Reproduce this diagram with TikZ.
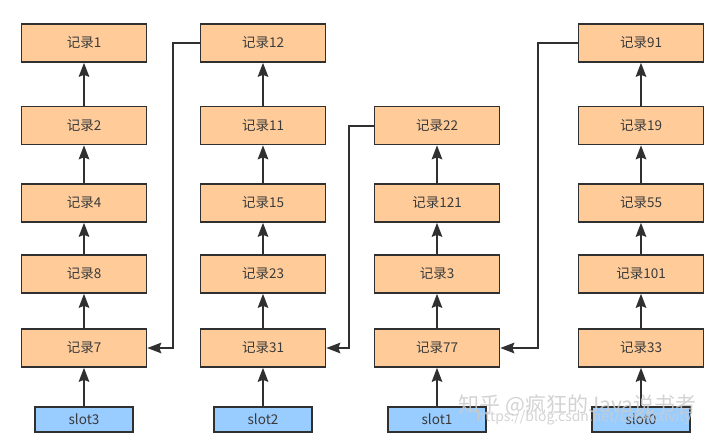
\documentclass[tikz,border=0pt]{standalone}
\usepackage{fontspec}
\setmainfont{Noto Sans CJK SC}
\usetikzlibrary{arrows.meta}
\definecolor{recfill}{HTML}{FFCC99}
\definecolor{slotfill}{HTML}{99CCFF}
\definecolor{edgec}{HTML}{303030}
\definecolor{txtc}{HTML}{3A3A3A}
\begin{document}
\begin{tikzpicture}[x=1pt,y=-1pt,
  rec/.style={draw=edgec, line width=1.6pt, fill=recfill, minimum width=125pt, minimum height=38pt, inner sep=0pt, text=txtc, font=\fontsize{13.5}{13.5}\selectfont},
  slotbox/.style={draw=edgec, line width=1.6pt, fill=slotfill, minimum width=98pt, minimum height=25pt, inner sep=0pt, text=txtc, font=\fontsize{13.5}{13.5}\selectfont},
  arr/.style={draw=edgec, line width=2pt, -{Stealth[length=14pt,width=10.5pt,inset=2pt]}},
  wm/.style={text=gray!40, opacity=0.85}]
\useasboundingbox (0,0) rectangle (720,437);
\fill[white] (0,0) rectangle (720,437);
% column 1
\node[rec] (r1) at (84,43) {记录1};
\node[rec] (r2) at (84,125.5) {记录2};
\node[rec] (r4) at (84,203) {记录4};
\node[rec] (r8) at (84,274) {记录8};
\node[rec] (r7) at (84,348) {记录7};
\node[slotbox] (s3) at (84,419.5) {slot3};
% column 2
\node[rec] (r12) at (263,43) {记录12};
\node[rec] (r11) at (263,125.5) {记录11};
\node[rec] (r15) at (263,203) {记录15};
\node[rec] (r23) at (263,274) {记录23};
\node[rec] (r31) at (263,348) {记录31};
\node[slotbox] (s2) at (263,419.5) {slot2};
% column 3
\node[rec] (r22) at (437,125.5) {记录22};
\node[rec] (r121) at (437,203) {记录121};
\node[rec] (r3) at (437,274) {记录3};
\node[rec] (r77) at (437,348) {记录77};
\node[slotbox] (s1) at (437,419.5) {slot1};
% column 4
\node[rec] (r91) at (641,43) {记录91};
\node[rec] (r19) at (641,125.5) {记录19};
\node[rec] (r55) at (641,203) {记录55};
\node[rec] (r101) at (641,274) {记录101};
\node[rec] (r33) at (641,348) {记录33};
\node[slotbox] (s0) at (641,419.5) {slot0};
% vertical arrows
\foreach \a/\b in {r2/r1,r4/r2,r8/r4,r7/r8,s3/r7,
                   r11/r12,r15/r11,r23/r15,r31/r23,s2/r31,
                   r121/r22,r3/r121,r77/r3,s1/r77,
                   r19/r91,r55/r19,r101/r55,r33/r101,s0/r33}
  \draw[arr] (\a) -- (\b);
% cross links
\draw[arr] (r12.west) -- ++(-27,0) |- (r7.east);
\draw[arr] (r22.west) -- ++(-24.5,0) |- (r31.east);
\draw[arr] (r91.west) -- ++(-39.5,0) |- (r77.east);
% watermark
\node[wm, anchor=west, font=\fontsize{21}{21}\selectfont] (wm1) at (455,405) {知乎 @疯狂的Java说书者};
\node[wm, anchor=west, font=\fontsize{14}{14}\selectfont] (wm2) at (473,418) {https://blog.csdn.net/LeoActivity};
\end{tikzpicture}
\end{document}
